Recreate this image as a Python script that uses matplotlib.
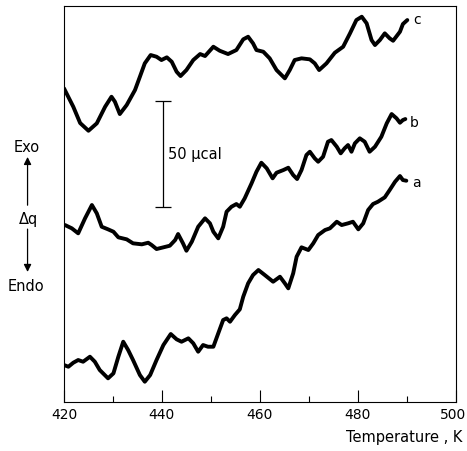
import numpy as np
import matplotlib.pyplot as plt
import matplotlib.transforms as mtrans
from matplotlib.ticker import MultipleLocator

# temperature (K) and heat flow (arbitrary units, up = exo)
temp_c = [420.0, 421.9, 423.3, 425.0, 426.7, 428.4, 429.7, 430.4, 431.4, 432.8,
          434.5, 435.5, 436.5, 437.7, 438.9, 439.9, 441.0, 442.0, 443.0, 443.8,
          445.0, 446.4, 447.8, 448.8, 450.5, 451.8, 453.5, 455.2, 456.6, 457.6,
          458.6, 459.3, 460.7, 462.0, 463.4, 465.1, 466.1, 467.1, 468.5, 470.2,
          471.2, 472.1, 473.6, 475.3, 477.0, 478.4, 479.7, 480.8, 481.8, 482.8,
          483.5, 484.5, 485.5, 486.5, 487.2, 488.6, 489.2, 490.1]
dq_c = [313.7, 295.3, 279, 271.3, 278.7, 295.3, 305.3, 300.3, 288, 297,
        312, 325.3, 338.7, 347, 345.3, 342, 344.7, 340.3, 330.3, 326,
        332, 342, 348, 346, 355.3, 351.3, 348, 352, 362.7, 365.3,
        358.7, 352, 350.3, 343.7, 332, 323.7, 332, 342, 343.7, 342.7,
        338.7, 332, 338.7, 349.3, 355.3, 368.7, 382, 385.3, 378.7, 362,
        357, 362, 368.7, 363.7, 361.3, 370.3, 378, 382]

temp_b = [420.2, 421.6, 422.9, 424.3, 425.7, 426.7, 427.7, 429.0, 430.1, 431.1,
          432.8, 434.1, 435.9, 437.2, 437.9, 438.9, 440.3, 441.6, 442.7, 443.3,
          444.3, 445.0, 446.1, 447.4, 448.8, 449.8, 450.5, 451.5, 452.5, 453.2,
          454.2, 455.2, 455.9, 456.9, 458.3, 459.3, 460.3, 461.4, 462.6, 463.4,
          464.8, 465.8, 466.8, 467.6, 468.5, 469.5, 470.2, 471.2, 471.9, 472.9,
          473.9, 474.6, 475.7, 476.5, 477.3, 478.0, 478.7, 479.4, 480.4, 481.4,
          482.4, 483.5, 484.8, 485.9, 486.9, 487.9, 488.6, 489.2, 489.7]
dq_b = [177, 173.7, 168.7, 183.7, 197, 188.7, 175.3, 172.7, 170.3, 164.7,
        162.7, 158.7, 157.7, 159.3, 157, 153, 154.7, 156.3, 162, 168,
        158.7, 151.3, 160.3, 175.3, 183.7, 178.7, 170.3, 163.7, 175.3, 190.3,
        195.3, 198, 195.3, 203.7, 218.7, 230.3, 239.3, 233.7, 223.7, 229.3,
        232, 234.3, 227, 223, 232, 247, 250.3, 243.7, 240.3, 245.3,
        260.3, 262, 255.3, 248.7, 253.7, 257, 250.3, 258.7, 263.7, 260.3,
        250.3, 255.3, 265.3, 278.7, 288, 283.7, 279.3, 282, 283]

temp_a = [420.0, 420.9, 421.9, 422.9, 423.9, 425.3, 426.3, 427.3, 429.0, 430.1,
          431.1, 432.1, 433.1, 434.1, 435.5, 436.5, 437.6, 438.9, 440.3, 441.8,
          443.0, 444.0, 445.4, 446.4, 447.4, 448.4, 449.4, 450.5, 451.5, 452.5,
          453.2, 453.9, 454.9, 455.9, 456.6, 457.6, 458.6, 459.7, 461.0, 462.7,
          464.1, 465.1, 465.8, 466.8, 467.5, 468.5, 469.9, 470.9, 471.9, 473.3,
          474.3, 475.7, 476.7, 478.0, 479.0, 480.1, 481.1, 482.1, 483.1, 484.1,
          485.5, 486.5, 487.6, 488.6, 489.2, 489.9]
dq_a = [37, 35.3, 39.3, 42, 40.3, 45.3, 40.3, 32, 23.7, 28.7,
        45.3, 60.3, 52, 42, 27, 20.3, 27, 42, 57, 68,
        62.7, 60.3, 63.7, 58.7, 50.3, 57, 55.3, 55.3, 68.7, 82,
        83.7, 80.3, 87, 92.7, 105.3, 118.7, 127, 132, 127, 120.3,
        125.3, 118.7, 113.7, 128.7, 145.3, 154.7, 152, 158.7, 167, 172,
        173.7, 180.3, 177, 178.7, 180.3, 172.7, 178.7, 192, 198, 200.3,
        204.7, 212, 220.3, 226, 222, 221.3]

curve_names = ['a', 'b', 'c']
x_ticks = [420, 440, 460, 480, 500]

fig = plt.figure(figsize=(4.67, 4.51), dpi=100)
ax = fig.add_axes([0.137, 0.1086, 0.839, 0.878])

for t, q in [(temp_a, dq_a), (temp_b, dq_b), (temp_c, dq_c)]:
    ax.plot(t, q, color='black', lw=2.8, solid_joinstyle='round', solid_capstyle='round')

# curve labels at the right-hand ends
ax.text(492.0, 218.7, curve_names[0], fontsize=10, va='center', ha='center')
ax.text(491.6, 278.7, curve_names[1], fontsize=10, va='center', ha='center')
ax.text(492.0, 382, curve_names[2], fontsize=10, va='center', ha='center')

# 50 ucal scale bar
ax.errorbar([440.3], [248], yerr=[[53.3], [53.3]], fmt='none', ecolor='black',
            elinewidth=0.9, capsize=6, capthick=0.9)
ax.text(441.2, 248, '50 µcal', fontsize=10.5, va='center', ha='left')

ax.set_xlim(420, 500)
ax.set_ylim(0, 396)
ax.set_xticks(x_ticks)
ax.xaxis.set_minor_locator(MultipleLocator(10))
ax.set_yticks([])
ax.tick_params(axis='x', which='major', direction='in', length=8.5, width=0.8,
               labelsize=10, pad=4)
ax.tick_params(axis='x', which='minor', direction='in', length=4.5, width=0.8)
for s in ax.spines.values():
    s.set_linewidth(0.8)

# nudge the last tick label so it stays inside the figure
last = ax.get_xticklabels()[-1]
last.set_transform(last.get_transform() + mtrans.ScaledTranslation(-0.03, 0, fig.dpi_scale_trans))

fig.text(0.991, 0.029, 'Temperature , K', fontsize=10.5, ha='right', va='center')

# Exo / dq / Endo direction marker
fig.text(0.058, 0.674, 'Exo', fontsize=10.5, ha='center', va='center')
fig.text(0.060, 0.514, 'Δq', fontsize=10.5, ha='center', va='center')
fig.text(0.056, 0.364, 'Endo', fontsize=10.5, ha='center', va='center')
arrow = dict(arrowstyle='-|>', lw=0.9, color='black', mutation_scale=11, shrinkA=0, shrinkB=0)
ax.annotate('', xy=(0.059, 0.652), xytext=(0.059, 0.545), xycoords='figure fraction',
            textcoords='figure fraction', arrowprops=arrow)
ax.annotate('', xy=(0.059, 0.397), xytext=(0.059, 0.492), xycoords='figure fraction',
            textcoords='figure fraction', arrowprops=arrow)

plt.savefig('out.png', dpi=100)
